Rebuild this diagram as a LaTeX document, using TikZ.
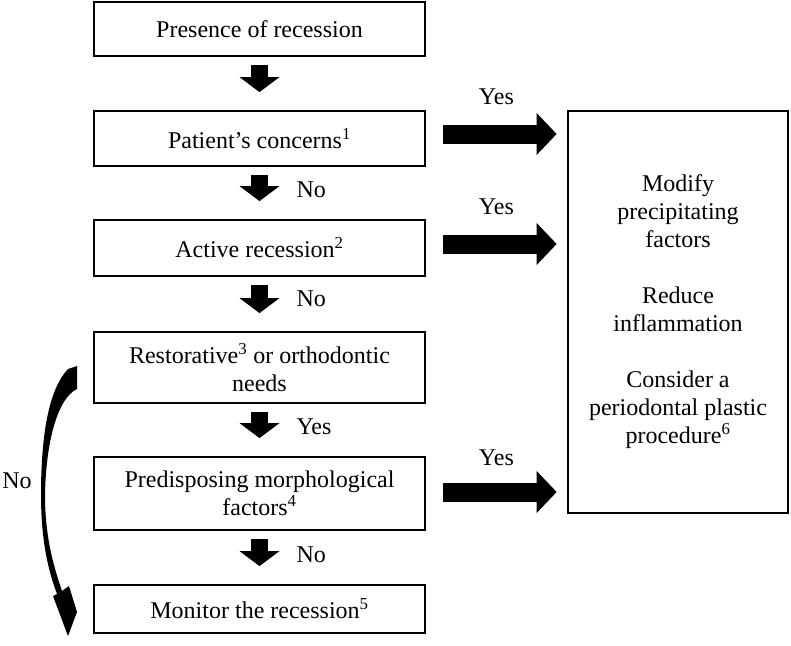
\documentclass[tikz,border=0pt]{standalone}
\usepackage{fontspec}
\setmainfont{Liberation Serif}
\usetikzlibrary{arrows.meta,calc}

\begin{document}
\begin{tikzpicture}[x=1pt,y=-1pt,font=\fontsize{24pt}{28pt}\selectfont,
    box/.style={draw,line width=2.8pt,minimum width=331pt,align=center,inner sep=2pt},
    downarr/.style={line width=17pt,line cap=rect,-{Triangle[width=40pt,length=15pt,line width=0pt]},shorten <=16pt,shorten >=17.5pt},
    sidearr/.style={line width=19pt,line cap=rect,-{Triangle[width=42pt,length=20pt,line width=0pt]},shorten <=26.5pt,shorten >=10pt}]

      \useasboundingbox (0,0) rectangle (791,645);

      % The left column: one box under the other
      \node[box,minimum height=54pt] (presence) at (259.5,29) {Presence of recession};
      \node[box,minimum height=55pt] (concerns) at (259.5,138.5) {Patient's concerns\textsuperscript{1}};
      \node[box,minimum height=56pt] (active) at (259.5,248) {Active recession\textsuperscript{2}};
      \node[box,minimum height=71pt] (needs) at (259.5,367.5) {Restorative\textsuperscript{3} or orthodontic\\needs};
      \node[box,minimum height=73pt] (morph) at (259.5,493.5) {Predisposing morphological\\factors\textsuperscript{4}};
      \node[box,minimum height=48pt] (monitor) at (259.5,609) {Monitor the recession\textsuperscript{5}};

      % The big box on the right
      \node[box,minimum width=220pt,minimum height=402pt] (treat) at (678,312)
        {Modify\\precipitating\\factors\\[28pt]Reduce\\inflammation\\[28pt]Consider a\\periodontal plastic\\procedure\textsuperscript{6}};

      %Now the down arrows
      \draw[downarr] (presence.south) -- (concerns.north);
      \draw[downarr] (concerns.south) -- (active.north);
      \node[anchor=west] (no1) at (293,190) {No};
      \draw[downarr] (active.south) -- (needs.north);
      \node[anchor=west] (no2) at (293,299) {No};
      \draw[downarr] (needs.south) -- (morph.north);
      \node[anchor=west] (yes4) at (293,427) {Yes};
      \draw[downarr] (morph.south) -- (monitor.north);
      \node[anchor=west] (no3) at (293,555) {No};

      %% Yes arrows into the right box
      \coordinate (c1) at ($(concerns.east)+(0,-4.5)$);
      \draw[sidearr] (c1) -- (c1 -| treat.west);
      \node (yes1) at ($(c1)+(70,-37)$) {Yes};

      \coordinate (c2) at ($(active.east)+(0,-4)$);
      \draw[sidearr] (c2) -- (c2 -| treat.west);
      \node (yes2) at ($(c2)+(70,-37)$) {Yes};

      \coordinate (c3) at ($(morph.east)+(0,-1.5)$);
      \draw[sidearr] (c3) -- (c3 -| treat.west);
      \node (yes3) at ($(c3)+(70,-34)$) {Yes};

      % Curved arrow on the left, from needs down to monitor
      \fill (68,369) -- (77,366) -- (77,389)
        .. controls (58,398) and (46,440) .. (45,495)
        .. controls (45,540) and (55,570) .. (62,591)
        -- (69,586) -- (77,612) -- (68,636) -- (53,596) -- (57,594)
        .. controls (48,570) and (41,540) .. (41,495)
        .. controls (41,430) and (50,388) .. (68,369) -- cycle;
      \node (no4) at (17,481) {No};

    \end{tikzpicture}
\end{document}
